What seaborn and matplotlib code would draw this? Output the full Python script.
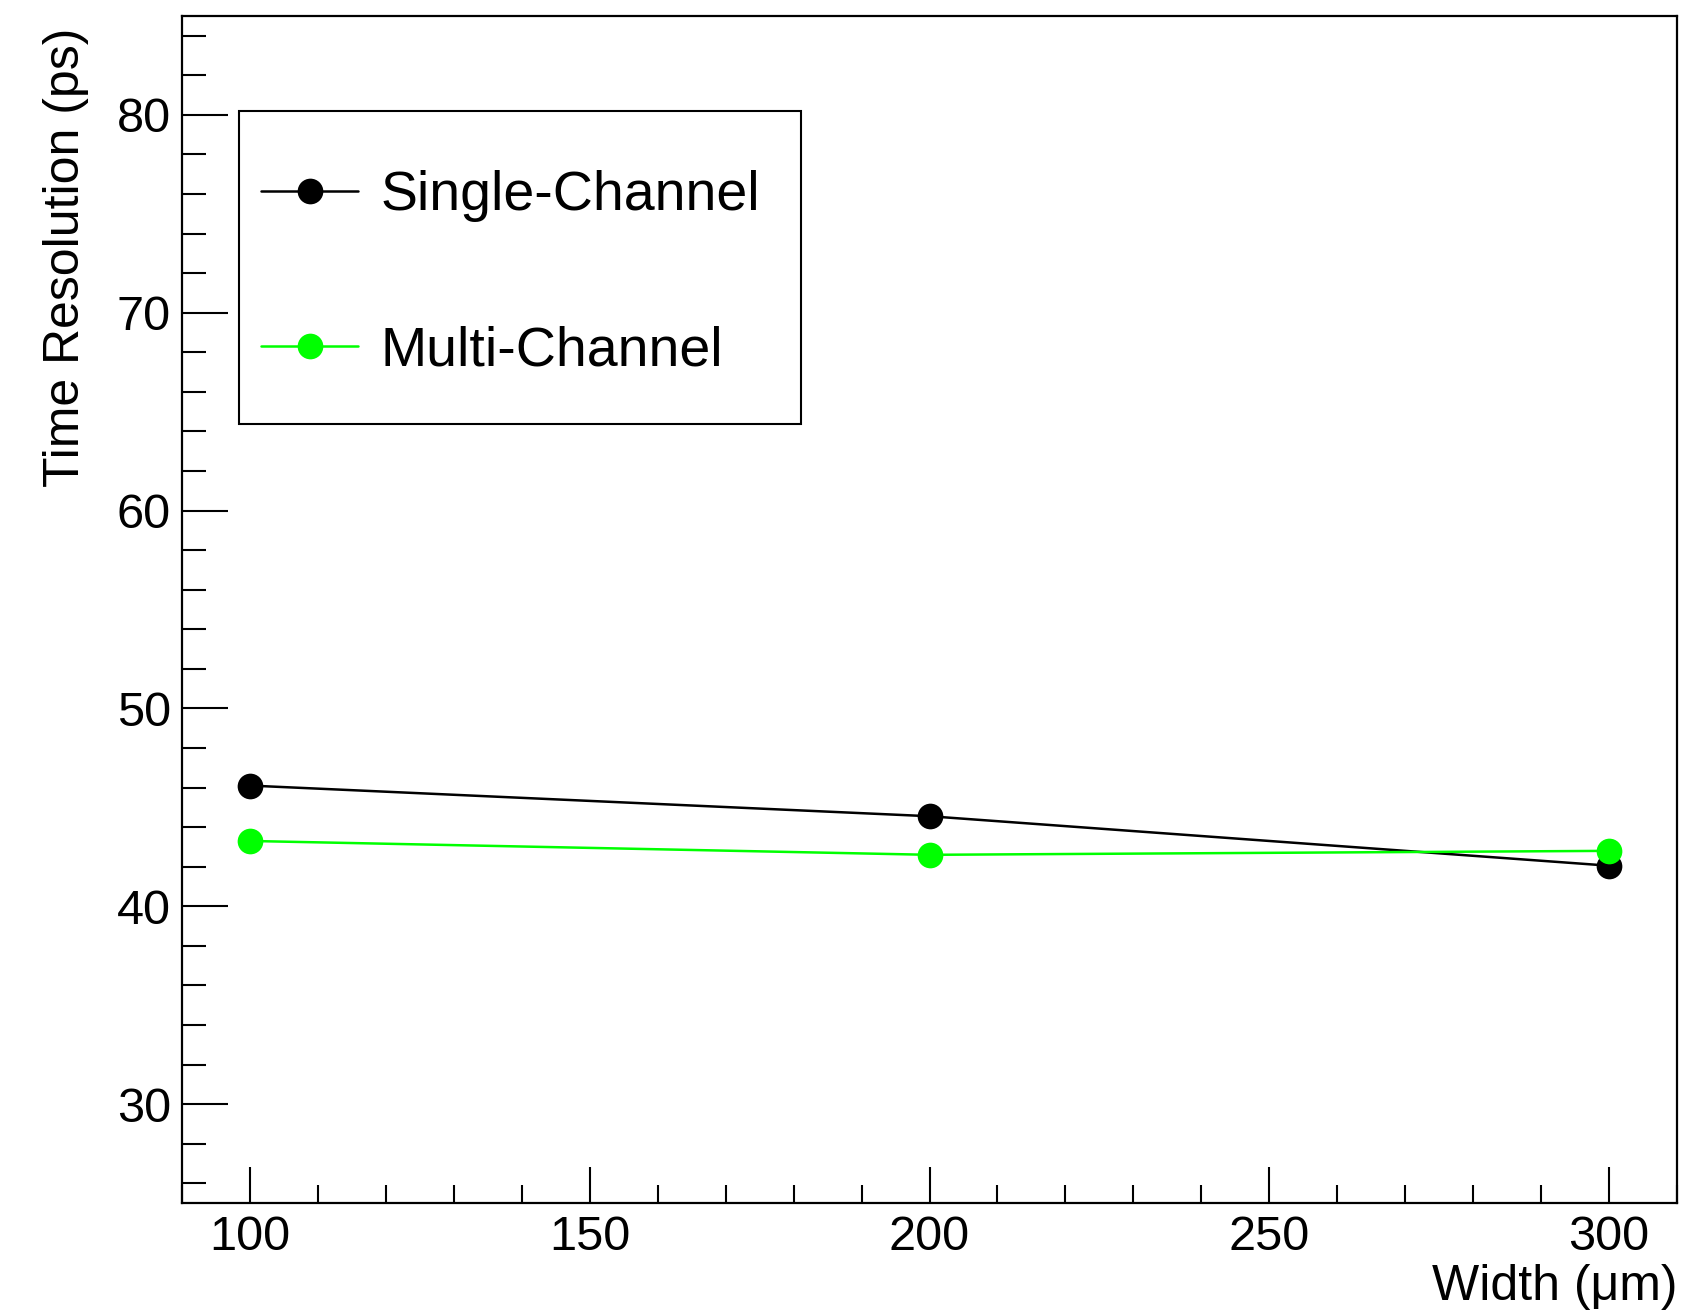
import matplotlib
matplotlib.use("Agg")
import matplotlib.pyplot as plt
from matplotlib.patches import Rectangle
from matplotlib.ticker import MultipleLocator
import numpy as np
import pandas as pd
import seaborn as sns

# Strip width (um) and measured time resolution (ps)
widths = [100, 200, 300]
single_channel = [46.1, 44.55, 42.05]
multi_channel = [43.3, 42.6, 42.8]
series_names = ["Single-Channel", "Multi-Channel"]
series_colors = ["#000000", "#00ff00"]

df = pd.concat([
    pd.DataFrame({"width": widths, "res": single_channel, "series": series_names[0]}),
    pd.DataFrame({"width": widths, "res": multi_channel, "series": series_names[1]}),
], ignore_index=True)

sns.set_theme(style="ticks")
plt.rcParams["font.family"] = ["Liberation Sans", "DejaVu Sans"]
plt.rcParams["text.color"] = "black"
plt.rcParams["axes.labelcolor"] = "black"
plt.rcParams["xtick.color"] = "black"
plt.rcParams["ytick.color"] = "black"

fig = plt.figure(figsize=(16.91, 13.12), dpi=100)
ax = fig.add_axes([182 / 1691, 1 - 1203 / 1312, 1495 / 1691, (1203 - 16) / 1312])

for name, col in zip(series_names, series_colors):
    sns.lineplot(data=df[df["series"] == name], x="width", y="res", ax=ax,
                 color=col, linewidth=1.8, marker="o", markersize=18.5,
                 markeredgecolor=col, markeredgewidth=0, label=name,
                 legend=False)

ax.set_xlim(90, 310)
ax.set_ylim(25, 85)
ax.xaxis.set_major_locator(MultipleLocator(50))
ax.xaxis.set_minor_locator(MultipleLocator(10))
ax.yaxis.set_major_locator(MultipleLocator(10))
ax.yaxis.set_minor_locator(MultipleLocator(2))

for s in ax.spines.values():
    s.set_linewidth(1.6)
    s.set_color("black")

ax.tick_params(axis="y", which="major", direction="in", length=33, width=1.5,
               labelsize=35, pad=8, colors="black", labelcolor="black")
ax.tick_params(axis="y", which="minor", direction="in", length=17, width=1.5)
ax.tick_params(axis="x", which="major", direction="in", length=26, width=1.5,
               labelsize=35, pad=9, colors="black", labelcolor="black")
ax.tick_params(axis="x", which="minor", direction="in", length=13, width=1.5)

ax.set_xlabel("Width (\u03bcm)", fontsize=36, loc="right", color="black")
ax.xaxis.set_label_coords(1.0, -0.0515)
ax.xaxis.label.set_va("top")
ax.set_ylabel("Time Resolution (ps)", fontsize=36, loc="top", color="black")
ax.yaxis.set_label_coords(-0.0624, 0.99)

# Legend frame and entries
ax.add_patch(Rectangle((0.038, 0.656), 0.376, 0.264, transform=ax.transAxes,
                       fill=False, edgecolor="black", linewidth=1.5, zorder=5))
handles, labels = ax.get_legend_handles_labels()
leg = ax.legend(handles, labels, loc="upper left",
                bbox_to_anchor=(0.0418, 0.884),
                frameon=False, fontsize=40, handlelength=1.75,
                handletextpad=0.4, labelspacing=1.86, borderpad=0.3,
                borderaxespad=0, numpoints=1)
for t in leg.get_texts():
    t.set_color("black")

fig.savefig("out.png", dpi=100, facecolor="white")
